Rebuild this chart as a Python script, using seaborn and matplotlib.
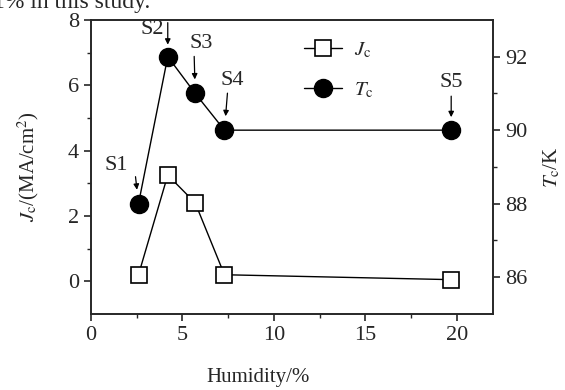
import matplotlib
matplotlib.use("Agg")
import matplotlib.pyplot as plt
import seaborn as sns

# data
humidity = [2.6, 4.2, 5.7, 7.3, 19.7]
jc_values = [0.2, 3.25, 2.4, 0.2, 0.05]
tc_values = [88, 92, 91, 90, 90]
sample_labels = ["S1", "S2", "S3", "S4", "S5"]

sns.set_style("ticks")
plt.rcParams["font.family"] = ["Liberation Serif", "DejaVu Serif"]
plt.rcParams["mathtext.fontset"] = "stix"
plt.rcParams["axes.linewidth"] = 1.2
plt.rcParams["xtick.major.width"] = 1.2
plt.rcParams["ytick.major.width"] = 1.2
plt.rcParams["xtick.minor.width"] = 1.0
plt.rcParams["ytick.minor.width"] = 1.0

fig = plt.figure(figsize=(5.65, 3.9), dpi=100)
ax = fig.add_axes([0.161, 0.195, 0.712, 0.754])
ax2 = ax.twinx()

sns.lineplot(x=humidity, y=jc_values, ax=ax, color="black", lw=1.0,
             marker="s", markersize=11, markerfacecolor="white",
             markeredgecolor="black", markeredgewidth=1.2, label=r"$J_\mathrm{c}$",
             legend=False, zorder=3)
sns.lineplot(x=humidity, y=tc_values, ax=ax2, color="black", lw=1.0,
             marker="o", markersize=13, markerfacecolor="black",
             markeredgecolor="black", markeredgewidth=1.0, label=r"$T_\mathrm{c}$",
             legend=False, zorder=3)

ax.set_xlim(0, 22)
ax.set_ylim(-1, 8)
ax2.set_ylim(85, 93)
ax.set_xticks([0, 5, 10, 15, 20])
ax.set_xticks([2.5, 7.5, 12.5, 17.5], minor=True)
ax.set_yticks([0, 2, 4, 6, 8])
ax.set_yticks([1, 3, 5, 7], minor=True)
ax2.set_yticks([86, 88, 90, 92])
ax2.set_yticks([87, 89, 91], minor=True)

for a in (ax, ax2):
    a.tick_params(which="major", length=5, labelsize=16, direction="out")
    a.tick_params(which="minor", length=3, direction="out")
    for s in a.spines.values():
        s.set_visible(True)
        s.set_linewidth(1.2)

ax.set_xlabel("Humidity/%", fontsize=15)
ax.xaxis.set_label_coords(0.415, -0.185)
ax.set_ylabel(r"$J_\mathrm{c}$/(MA/cm$^2$)", fontsize=15)
ax.yaxis.set_label_coords(-0.125, 0.5)
ax2.set_ylabel(r"$T_\mathrm{c}$/K", fontsize=15, labelpad=10)

# sample annotations: text offset, arrow tail offset, gap above marker (pixels)
offsets = {
    "S1": ((-22, 38), (-3, 27), 14),
    "S2": ((-16, 27), (0, 34), 12),
    "S3": ((6, 50), (-1, 37), 14),
    "S4": ((8, 50), (3, 37), 14),
    "S5": ((0, 48), (0, 34), 13),
}
for x, y, name in zip(humidity, tc_values, sample_labels):
    txt, tail, gap = offsets[name]
    ax2.annotate(name, xy=(x, y), xytext=txt, textcoords="offset pixels",
                 ha="center", va="center", fontsize=16)
    ax2.annotate("", xy=(x, y), xytext=tail, textcoords="offset pixels",
                 arrowprops=dict(arrowstyle="-|>", lw=0.9, color="black",
                                 mutation_scale=8, shrinkA=0,
                                 shrinkB=gap * 0.72))

h1, l1 = ax.get_legend_handles_labels()
h2, l2 = ax2.get_legend_handles_labels()
fig.legend(h1 + h2, l1 + l2, loc="upper left", bbox_to_anchor=(0.505, 0.945),
           frameon=False, fontsize=15, numpoints=1, handlelength=1.8,
           labelspacing=1.0, handletextpad=0.6)

fig.text(-0.012, 1 - 8 / 390, "1% in this study.", fontsize=17, va="baseline",
         ha="left")

fig.savefig("out.png", dpi=100)
